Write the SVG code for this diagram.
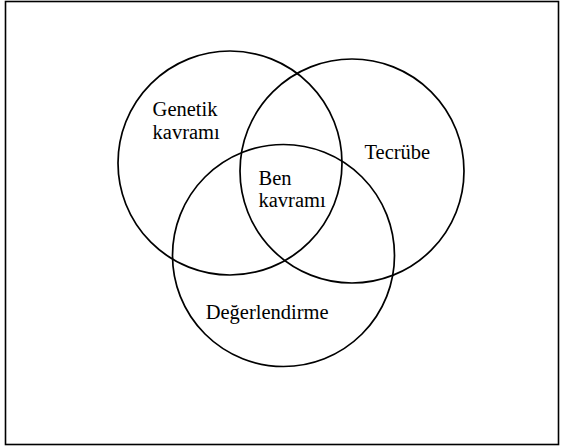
<svg xmlns="http://www.w3.org/2000/svg" width="563" height="447" viewBox="0 0 563 447">
<style>
.c{fill:none;stroke:#000;stroke-width:1.7}
.t{font-family:"Liberation Serif","Times New Roman",serif;font-size:20.5px;fill:#000}
</style>
<rect x="0" y="0" width="563" height="447" fill="#fff"/>
<rect x="5.5" y="1.5" width="553" height="443" fill="none" stroke="#000" stroke-width="1.6"/>
<g id="connectors"></g>
<g id="genetik">
<circle class="c" cx="230" cy="163" r="112"/>
<text class="t" x="152.6" y="116">Genetik</text>
<text class="t" x="152.6" y="139">kavramı</text>
</g>
<g id="tecrube">
<circle class="c" cx="352" cy="171" r="112"/>
<text class="t" x="364.5" y="159">Tecrübe</text>
</g>
<g id="degerlendirme">
<circle class="c" cx="283.5" cy="255.5" r="111"/>
<text class="t" x="205.7" y="319">Değerlendirme</text>
</g>
<g id="ben">
<text class="t" x="258.5" y="185">Ben</text>
<text class="t" x="258.5" y="207">kavramı</text>
</g>
</svg>
